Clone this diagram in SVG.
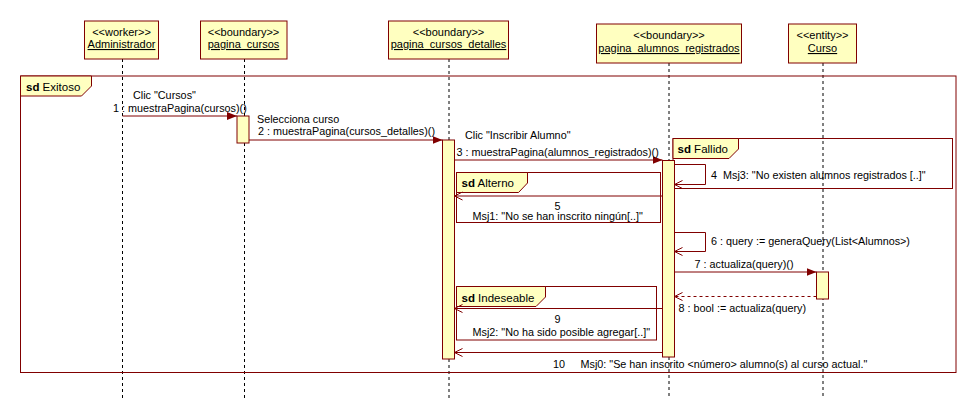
<svg xmlns="http://www.w3.org/2000/svg" width="976" height="420" viewBox="0 0 976 420">
<defs>
<style>
text{font-family:"Liberation Sans",Arial,sans-serif;font-size:10.8px;fill:#000}
.hdt{font-size:11px}
.tl{font-size:11.5px}
.hd{fill:#ffffc0;stroke:#800000;stroke-width:1}
.act{fill:#ffffc0;stroke:#800000;stroke-width:1}
.life{stroke:#000;stroke-width:1;stroke-dasharray:3 3;fill:none}
.frame{fill:none;stroke:#800000;stroke-width:1}
.tab{fill:#ffffc0;stroke:#800000;stroke-width:1}
.msg{stroke:#800000;stroke-width:1;fill:none}
.ret{stroke:#800000;stroke-width:1;fill:none;stroke-dasharray:3 3}
.u{text-decoration:underline}
.c{text-anchor:middle}
.b{font-weight:bold}
</style>
<marker id="filled" viewBox="0 0 10 8" refX="10" refY="4" markerWidth="10" markerHeight="8" markerUnits="userSpaceOnUse" orient="auto">
<path d="M0,0 L10,4 L0,8 z" fill="#800000"/>
</marker>
<marker id="open" viewBox="0 0 10 10" refX="9" refY="5" markerWidth="10" markerHeight="10" markerUnits="userSpaceOnUse" orient="auto">
<path d="M1,1 L9,5 L1,9" fill="none" stroke="#800000" stroke-width="1"/>
</marker>
</defs>
<rect width="976" height="420" fill="#fff"/>

<g id="lifelines">
<line class="life" x1="122.5" y1="59" x2="122.5" y2="399"/>
<line class="life" x1="244.5" y1="59" x2="244.5" y2="399"/>
<line class="life" x1="449" y1="59" x2="449" y2="399"/>
<line class="life" x1="669" y1="63" x2="669" y2="399"/>
<line class="life" x1="823" y1="63" x2="823" y2="399"/>
</g>

<g id="frame-exitoso">
<rect class="frame" x="20.5" y="76" width="935.5" height="296.5"/>
<path class="tab" d="M20.5,76 V96 H81.5 L91.5,86 V76 Z"/>
<text class="tl" x="26" y="90.5"><tspan class="b">sd</tspan> Exitoso</text>
</g>
<g id="frame-fallido">
<rect class="frame" x="673" y="138.5" width="279.5" height="50"/>
<path class="tab" d="M673,138.5 V158.5 H729 L738.5,149 V138.5 Z"/>
<text class="tl" x="677.5" y="153"><tspan class="b">sd</tspan> Fallido</text>
</g>
<g id="frame-alterno">
<rect class="frame" x="456.5" y="172.5" width="204" height="50"/>
<path class="tab" d="M456.5,172.5 V192.5 H518.5 L527.5,183 V172.5 Z"/>
<text class="tl" x="461.5" y="187"><tspan class="b">sd</tspan> Alterno</text>
</g>
<g id="frame-indeseable">
<rect class="frame" x="456.5" y="286.5" width="200" height="53.5"/>
<path class="tab" d="M456.5,286.5 V306.5 H536 L545.5,297 V286.5 Z"/>
<text class="tl" x="461.5" y="301.5"><tspan class="b">sd</tspan> Indeseable</text>
</g>

<g id="Administrador">
<rect class="hd" x="84.5" y="21" width="74" height="38"/>
<text class="c hdt" x="121.5" y="35.5">&lt;&lt;worker&gt;&gt;</text>
<text class="c u hdt" x="121.5" y="48">Administrador</text>
</g>
<g id="pagina_cursos">
<rect class="hd" x="200.5" y="21" width="86.5" height="38"/>
<text class="c hdt" x="243.5" y="35.5">&lt;&lt;boundary&gt;&gt;</text>
<text class="c u hdt" x="243.5" y="48">pagina_cursos</text>
</g>
<g id="pagina_cursos_detalles">
<rect class="hd" x="388.5" y="21" width="120" height="38"/>
<text class="c hdt" x="448.5" y="35.5">&lt;&lt;boundary&gt;&gt;</text>
<text class="c u hdt" x="448.5" y="48">pagina_cursos_detalles</text>
</g>
<g id="pagina_alumnos_registrados">
<rect class="hd" x="596.5" y="24" width="145" height="39"/>
<text class="c hdt" x="669" y="39">&lt;&lt;boundary&gt;&gt;</text>
<text class="c u hdt" x="669" y="52">pagina_alumnos_registrados</text>
</g>
<g id="Curso">
<rect class="hd" x="788.5" y="24" width="68" height="39"/>
<text class="c hdt" x="822.5" y="39">&lt;&lt;entity&gt;&gt;</text>
<text class="c u hdt" x="822.5" y="52">Curso</text>
</g>

<g id="activations">
<rect class="act" x="237" y="116" width="12" height="27"/>
<rect class="act" x="442.5" y="140" width="12" height="219"/>
<rect class="act" x="662.5" y="160.5" width="12" height="196.5"/>
<rect class="act" x="816.5" y="272" width="12" height="27"/>
</g>

<g id="connectors">
<line class="msg" x1="122.5" y1="116" x2="237" y2="116" marker-end="url(#filled)"/>
<line class="msg" x1="249" y1="140" x2="442.5" y2="140" marker-end="url(#filled)"/>
<line class="msg" x1="454.5" y1="160" x2="662.5" y2="160" marker-end="url(#filled)"/>
<polyline class="msg" points="674.5,164.5 705.5,164.5 705.5,184.5 674.5,184.5" marker-end="url(#open)"/>
<line class="msg" x1="662.5" y1="196" x2="454.5" y2="196" marker-end="url(#open)"/>
<polyline class="msg" points="674.5,232.5 705.5,232.5 705.5,251.5 674.5,251.5" marker-end="url(#open)"/>
<line class="msg" x1="674.5" y1="272" x2="816.5" y2="272" marker-end="url(#filled)"/>
<line class="ret" x1="816.5" y1="296.5" x2="674.5" y2="296.5" marker-end="url(#open)"/>
<line class="msg" x1="662.5" y1="308.5" x2="454.5" y2="308.5" marker-end="url(#open)"/>
<line class="msg" x1="662.5" y1="352.5" x2="454.5" y2="352.5" marker-end="url(#open)"/>
</g>

<g id="labels">
<text x="133" y="99">Clic "Cursos"</text>
<text x="113" y="111.5">1 : muestraPagina(cursos)()</text>
<text x="257" y="123">Selecciona curso</text>
<text x="258" y="135">2 : muestraPagina(cursos_detalles)()</text>
<text x="465" y="139">Clic "Inscribir Alumno"</text>
<text x="456.5" y="156">3 : muestraPagina(alumnos_registrados)()</text>
<text x="711" y="178.5" xml:space="preserve">4  Msj3: "No existen alumnos registrados [..]"</text>
<text class="c" x="557.5" y="209.5">5</text>
<text x="472.5" y="220">Msj1: "No se han inscrito ningún[..]"</text>
<text x="711" y="244.5">6 : query := generaQuery(List&lt;Alumnos&gt;)</text>
<text x="694.5" y="267.5">7 : actualiza(query)()</text>
<text x="678.5" y="311.5">8 : bool := actualiza(query)</text>
<text class="c" x="557.5" y="322.5">9</text>
<text x="472.5" y="336">Msj2: "No ha sido posible agregar[..]"</text>
<text x="553" y="367.5">10</text>
<text x="580.5" y="367.5">Msj0: "Se han inscrito &lt;número&gt; alumno(s) al curso actual."</text>
</g>
</svg>
